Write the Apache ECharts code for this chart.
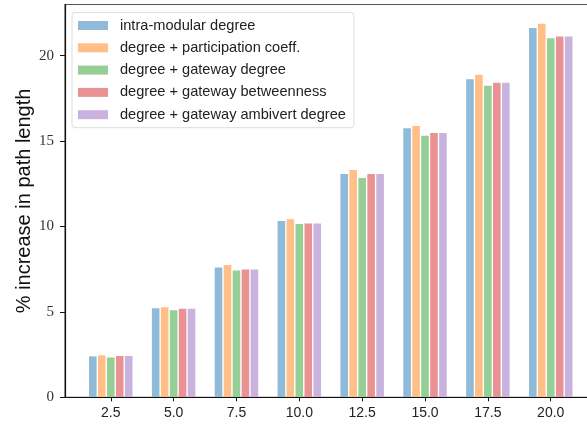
<!DOCTYPE html>
<html>
<head>
<meta charset="utf-8">
<script src="https://cdn.jsdelivr.net/npm/echarts@6/dist/echarts.min.js"></script>
<style>
  html, body { margin: 0; padding: 0; background: #fff; }
  #chart { width: 587px; height: 428px; }
</style>
</head>
<body>
<div id="chart"></div>
<script>
// Fraction of nodes removed (x positions of the bar groups)
const removalLevels = [2.5, 5.0, 7.5, 10.0, 12.5, 15.0, 17.5, 20.0];

// Percent increase in characteristic path length per targeting strategy
const intraModular      = [2.40, 5.22, 7.60, 10.32, 13.08, 15.76, 18.63, 21.62];
const participation     = [2.46, 5.28, 7.74, 10.42, 13.31, 15.89, 18.89, 21.88];
const gatewayDegree     = [2.33, 5.10, 7.43, 10.15, 12.84, 15.31, 18.24, 21.02];
const gatewayBetween    = [2.42, 5.18, 7.49, 10.18, 13.08, 15.47, 18.42, 21.13];
const gatewayAmbivert   = [2.42, 5.18, 7.49, 10.18, 13.08, 15.47, 18.42, 21.13];

const seriesNames = [
  'intra-modular degree',
  'degree + participation coeff.',
  'degree + gateway degree',
  'degree + gateway betweenness',
  'degree + gateway ambivert degree'
];
const seriesValues = [intraModular, participation, gatewayDegree, gatewayBetween, gatewayAmbivert];

// tab10 colours at half opacity on white
const colors = ['#8fbbd9', '#ffbf86', '#95cf95', '#ea9293', '#c9b3de'];

const yTicks = [0, 5, 10, 15, 20];

const chart = echarts.init(document.getElementById('chart'), null, { renderer: 'canvas' });

const series = seriesNames.map((name, i) => ({
  name: name,
  type: 'bar',
  data: removalLevels.map((x, j) => [x, seriesValues[i][j]]),
  barWidth: 7.6,
  barGap: '18%',
  itemStyle: { color: colors[i], borderWidth: 0 },
  emphasis: { disabled: true }
}));

chart.setOption({
  animation: false,
  color: colors,
  grid: {
    left: 65, top: 4.5, width: 533, bottom: 30.7,
    outerBoundsMode: 'none',
    containLabel: false,
    show: true, borderColor: '#555', borderWidth: 1.2, backgroundColor: 'transparent'
  },
  legend: {
    orient: 'vertical',
    left: 72, top: 12.5,
    padding: [5, 8, 5, 6],
    itemWidth: 30, itemHeight: 9,
    itemGap: 6.3,
    backgroundColor: '#ffffff',
    borderColor: '#dddddd', borderWidth: 1, borderRadius: 3,
    icon: 'rect',
    itemStyle: { borderWidth: 0 },
    textStyle: {
      fontFamily: 'Liberation Sans', fontSize: 14.6, color: '#222',
      lineHeight: 16, padding: [0, 0, 0, 7]
    },
    data: seriesNames
  },
  xAxis: {
    type: 'value',
    min: 0.68, max: 21.88,
    z: 5,
    splitLine: { show: false },
    axisLine: { show: true, onZero: false, lineStyle: { color: '#111', width: 1.2 } },
    axisTick: { show: true, length: 4, customValues: removalLevels, lineStyle: { color: '#111' } },
    axisLabel: {
      customValues: removalLevels,
      formatter: v => v.toFixed(1),
      fontFamily: 'Liberation Sans', fontSize: 14, color: '#222', margin: 9
    }
  },
  yAxis: {
    type: 'value',
    min: 0, max: 23, interval: 5,
    splitLine: { show: false },
    axisLine: { show: true, lineStyle: { color: '#111', width: 1.2 } },
    axisTick: { show: true, length: 5, customValues: yTicks, lineStyle: { color: '#111' } },
    axisLabel: {
      customValues: yTicks,
      fontFamily: 'Liberation Serif', fontSize: 15, color: '#333', margin: 11
    },
    name: '% increase in path length',
    nameLocation: 'middle',
    nameGap: 31,
    nameMoveOverlap: false,
    nameTextStyle: { fontFamily: 'Liberation Sans', fontSize: 20, color: '#111' }
  },
  series: series
});
</script>
</body>
</html>
